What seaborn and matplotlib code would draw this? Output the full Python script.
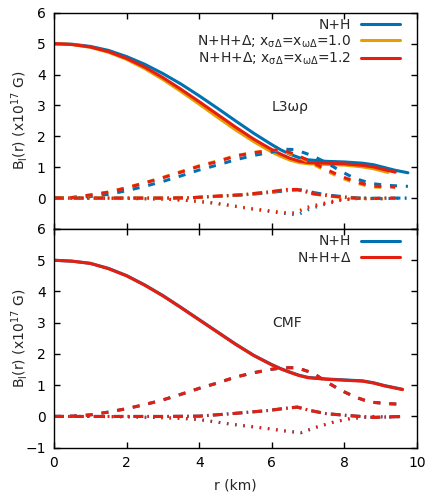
import numpy as np
import pandas as pd
import matplotlib
matplotlib.use("Agg")
import matplotlib.pyplot as plt
from matplotlib.lines import Line2D
import seaborn as sns

sns.set_theme(style="white")
plt.rcParams["font.family"] = ["DejaVu Sans"]
plt.rcParams["mathtext.default"] = "regular"

BLUE = "#0072b2"
ORANGE = "#e69f00"
RED = "#e51e10"

# ---------------- Top panel (L3wr) ----------------
r_solid_b = [0, 0.5, 1, 1.5, 2, 2.5, 3, 3.5, 4, 4.5, 5, 5.5, 6, 6.25, 6.5, 6.75, 7, 7.5, 8, 8.5, 8.8, 9.1, 9.4, 9.75]
solid_nh = [5.00, 4.98, 4.91, 4.78, 4.58, 4.33, 4.03, 3.69, 3.31, 2.91, 2.50, 2.10, 1.73, 1.56, 1.42, 1.31, 1.24, 1.19, 1.17, 1.13, 1.08, 0.99, 0.90, 0.82]
r_solid_r = [0, 0.5, 1, 1.5, 2, 2.5, 3, 3.5, 4, 4.5, 5, 5.5, 6, 6.25, 6.5, 6.75, 7, 7.5, 8, 8.5, 8.8, 9.1, 9.4]
solid_12 = [5.00, 4.97, 4.89, 4.74, 4.52, 4.24, 3.90, 3.52, 3.12, 2.71, 2.30, 1.91, 1.57, 1.42, 1.29, 1.20, 1.15, 1.13, 1.11, 1.06, 1.01, 0.92, 0.84]
r_solid_o = [0, 0.5, 1, 1.5, 2, 2.5, 3, 3.5, 4, 4.5, 5, 5.5, 6, 6.25, 6.5, 6.75, 7, 7.5, 8, 8.5, 8.8, 9.0, 9.2]
solid_10 = [5.00, 4.97, 4.88, 4.72, 4.49, 4.19, 3.84, 3.45, 3.04, 2.62, 2.21, 1.83, 1.49, 1.35, 1.23, 1.15, 1.11, 1.09, 1.07, 1.01, 0.95, 0.89, 0.83]

r_dash_b = [0, 0.5, 1, 1.5, 2, 2.5, 3, 3.5, 4, 4.5, 5, 5.5, 6, 6.4, 6.64, 7.1, 7.5, 7.9, 8.3, 8.76, 9.2, 9.58, 9.75]
dash_nh = [0, 0.01, 0.05, 0.12, 0.24, 0.38, 0.54, 0.72, 0.91, 1.07, 1.24, 1.38, 1.49, 1.58, 1.57, 1.38, 1.15, 0.87, 0.63, 0.47, 0.41, 0.39, 0.38]
r_dash_r = [0, 0.5, 1, 1.5, 2, 2.5, 3, 3.5, 4, 4.5, 5, 5.5, 6, 6.25, 6.64, 7.06, 7.5, 7.9, 8.3, 8.76, 9.2, 9.4]
dash_12 = [0, 0.02, 0.1, 0.19, 0.33, 0.49, 0.66, 0.84, 1.03, 1.18, 1.36, 1.47, 1.54, 1.57, 1.42, 1.19, 0.93, 0.71, 0.53, 0.39, 0.37, 0.35]
r_dash_o = [0, 0.5, 1, 1.5, 2, 2.5, 3, 3.5, 4, 4.5, 5, 5.5, 6, 6.25, 6.64, 7.06, 7.5, 7.9, 8.3, 8.76, 9.2]
dash_10 = [0, 0.02, 0.1, 0.2, 0.34, 0.5, 0.67, 0.86, 1.05, 1.2, 1.37, 1.48, 1.54, 1.55, 1.38, 1.14, 0.88, 0.66, 0.49, 0.36, 0.34]

r_dd_b = [0, 1, 2, 3, 3.75, 4.57, 5.2, 5.7, 6.1, 6.5, 6.8, 7.2, 7.6, 8.2, 8.6, 9.2, 9.75]
dd_nh = [0, 0, 0, 0, 0.01, 0.06, 0.1, 0.15, 0.2, 0.25, 0.27, 0.17, 0.09, 0.02, -0.01, 0.0, 0.0]
r_dd_r = [0, 1, 2, 3, 3.75, 4.57, 5.2, 5.68, 6.0, 6.4, 6.7, 7.15, 7.6, 8.16, 8.6, 9.2, 9.4]
dd_12 = [0, 0, 0, 0, 0.01, 0.07, 0.11, 0.17, 0.21, 0.28, 0.28, 0.14, 0.07, 0.01, -0.02, 0.0, 0.0]
r_dd_o = [0, 1, 2, 3, 3.75, 4.57, 5.2, 5.68, 6.0, 6.4, 6.7, 7.15, 7.6, 8.16, 8.6, 9.2]
dd_10 = [0, 0, 0, 0, 0.01, 0.07, 0.11, 0.17, 0.21, 0.27, 0.27, 0.13, 0.06, 0.0, -0.02, 0.0]

r_dot_b = [0, 1, 2, 2.5, 3, 3.6, 4, 4.4, 4.7, 5.4, 6.1, 6.5, 6.7, 7.0, 7.34, 7.9, 8.5, 9.0, 9.75]
dot_nh = [0, 0, -0.01, -0.02, -0.03, -0.07, -0.11, -0.16, -0.21, -0.34, -0.46, -0.52, -0.55, -0.38, -0.24, -0.07, 0.0, -0.02, 0.0]
r_dot_r = [0, 1, 2, 2.5, 3, 3.6, 4, 4.4, 4.7, 5.4, 6.1, 6.46, 6.64, 6.97, 7.34, 7.9, 8.5, 9.0, 9.4]
dot_12 = [0, 0, -0.01, -0.02, -0.03, -0.07, -0.11, -0.16, -0.21, -0.34, -0.44, -0.49, -0.48, -0.31, -0.2, -0.05, 0.0, -0.02, 0.0]
r_dot_o = [0, 1, 2, 2.5, 3, 3.6, 4, 4.4, 4.7, 5.4, 6.1, 6.46, 6.64, 6.97, 7.34, 7.9, 8.5, 9.0, 9.2]
dot_10 = [0, 0, -0.01, -0.02, -0.03, -0.07, -0.11, -0.16, -0.21, -0.33, -0.43, -0.48, -0.46, -0.29, -0.18, -0.04, 0.0, -0.02, 0.0]

# ---------------- Bottom panel (CMF) ----------------
r_cmf = [0, 0.5, 1, 1.5, 2, 2.5, 3, 3.5, 4, 4.5, 5, 5.5, 6, 6.25, 6.5, 6.75, 7, 7.5, 8, 8.5, 8.8, 9.1, 9.35, 9.6]
cmf_solid_nh = [5.00, 4.97, 4.90, 4.74, 4.51, 4.21, 3.87, 3.49, 3.10, 2.71, 2.32, 1.96, 1.66, 1.53, 1.42, 1.32, 1.25, 1.20, 1.17, 1.14, 1.08, 0.99, 0.93, 0.87]
cmf_solid_d = [5.00, 4.97, 4.90, 4.73, 4.50, 4.20, 3.86, 3.48, 3.09, 2.70, 2.31, 1.95, 1.65, 1.52, 1.41, 1.31, 1.24, 1.19, 1.16, 1.13, 1.07, 0.98, 0.92, 0.86]
r_cmf_dash = [0, 0.5, 1, 1.5, 2, 2.5, 3, 3.5, 4, 4.5, 5, 5.5, 6, 6.3, 6.7, 7.15, 7.5, 7.9, 8.3, 8.7, 9.2, 9.6]
cmf_dash = [0, 0.01, 0.05, 0.14, 0.25, 0.38, 0.53, 0.71, 0.9, 1.07, 1.26, 1.4, 1.51, 1.56, 1.56, 1.38, 1.11, 0.84, 0.62, 0.46, 0.41, 0.39]
r_cmf_dd = [0, 1, 2, 3, 4, 4.9, 5.9, 6.3, 6.7, 7.06, 7.5, 8.1, 8.8, 9.6]
cmf_dd = [0, 0, 0, 0, 0.01, 0.09, 0.19, 0.25, 0.3, 0.19, 0.09, 0.03, -0.03, 0.0]
r_cmf_dot = [0, 1, 2, 3, 3.5, 4, 4.9, 5.9, 6.4, 6.8, 7.24, 7.7, 8.16, 8.8, 9.2, 9.6]
cmf_dot = [0, 0, -0.01, -0.04, -0.06, -0.1, -0.25, -0.39, -0.47, -0.52, -0.34, -0.18, -0.07, 0.0, -0.02, 0.0]

legend_top = ["N+H",
              "N+H+Δ; x$_{σΔ}$=x$_{ωΔ}$=1.0",
              "N+H+Δ; x$_{σΔ}$=x$_{ωΔ}$=1.2"]
legend_bot = ["N+H", "N+H+Δ"]
ylabel = "B$_l$(r) (x10$^{17}$ G)"
xlabel = "r (km)"

LW = 2.2
STY = {
    "solid": "-",
    "dash": (0, (2.3, 2.9)),
    "dashdot": (0, (3.2, 1.4, 0.5, 1.4)),
    "dot": (0, (0.5, 2.2)),
}


def draw(ax, r, v, color, style):
    df = pd.DataFrame({"r": r, "B": v})
    sns.lineplot(data=df, x="r", y="B", ax=ax, color=color, lw=LW,
                 linestyle=STY[style], estimator=None, errorbar=None,
                 sort=False, legend=False, solid_joinstyle="round")


fig = plt.figure(figsize=(4.27, 4.93), dpi=100)
L, R = 54 / 427, 417 / 427
ax1 = fig.add_axes([L, 1 - 229 / 493, R - L, (229 - 12.7) / 493])
ax2 = fig.add_axes([L, 1 - 447.7 / 493, R - L, (447.7 - 229) / 493])

# top panel curves
for rr, vv, c in [(r_solid_b, solid_nh, BLUE), (r_solid_o, solid_10, ORANGE), (r_solid_r, solid_12, RED)]:
    draw(ax1, rr, vv, c, "solid")
for rr, vv, c in [(r_dash_b, dash_nh, BLUE), (r_dash_o, dash_10, ORANGE), (r_dash_r, dash_12, RED)]:
    draw(ax1, rr, vv, c, "dash")
for rr, vv, c in [(r_dd_b, dd_nh, BLUE), (r_dd_o, dd_10, ORANGE), (r_dd_r, dd_12, RED)]:
    draw(ax1, rr, vv, c, "dashdot")
for rr, vv, c in [(r_dot_b, dot_nh, BLUE), (r_dot_o, dot_10, ORANGE), (r_dot_r, dot_12, RED)]:
    draw(ax1, rr, vv, c, "dot")

# bottom panel curves
draw(ax2, r_cmf, cmf_solid_nh, BLUE, "solid")
draw(ax2, r_cmf_dash, cmf_dash, BLUE, "dash")
draw(ax2, r_cmf_dd, cmf_dd, BLUE, "dashdot")
draw(ax2, r_cmf_dot, cmf_dot, BLUE, "dot")
draw(ax2, r_cmf, cmf_solid_d, RED, "solid")
draw(ax2, r_cmf_dash, cmf_dash, RED, "dash")
draw(ax2, r_cmf_dd, cmf_dd, RED, "dashdot")
draw(ax2, r_cmf_dot, cmf_dot, RED, "dot")

for ax in (ax1, ax2):
    ax.set_xlim(0, 10)
    ax.set_ylim(-1, 6)
    ax.set_xticks([0, 2, 4, 6, 8, 10])
    ax.set_yticks([-1, 0, 1, 2, 3, 4, 5, 6])
    ax.tick_params(direction="in", length=4, width=1, colors="black",
                   top=True, right=True, bottom=True, left=True,
                   labelsize=10, pad=6)
    for s in ax.spines.values():
        s.set_color("black")
        s.set_linewidth(1.0)
    ax.set_ylabel(ylabel, fontsize=10)
    ax.yaxis.set_label_coords(-0.066, 0.5)
    ax.grid(False)

ax1.set_yticklabels(["", "0", "1", "2", "3", "4", "5", "6"])
ax1.set_xticklabels([])
ax1.set_xlabel("")
ax2.set_xticklabels(["0", "2", "4", "6", "8", "10"])
ax2.set_xlabel(xlabel, fontsize=10, labelpad=6)

ax1.text(6.0, 2.96, "L3ωρ", fontsize=10, va="center", ha="left")
ax2.text(6.0, 3.0, "CMF", fontsize=10, va="center", ha="left")

h_top = [Line2D([], [], color=c, lw=LW) for c in (BLUE, ORANGE, RED)]
ax1.legend(h_top, legend_top, loc="upper right", bbox_to_anchor=(0.952, 0.975),
           frameon=False, markerfirst=False, handlelength=2.8, handletextpad=0.7,
           borderpad=0, borderaxespad=0, labelspacing=0.08, fontsize=10)
h_bot = [Line2D([], [], color=c, lw=LW) for c in (BLUE, RED)]
ax2.legend(h_bot, legend_bot, loc="upper right", bbox_to_anchor=(0.952, 0.975),
           frameon=False, markerfirst=False, handlelength=2.8, handletextpad=0.7,
           borderpad=0, borderaxespad=0, labelspacing=0.15, fontsize=10)

fig.savefig("out.png", dpi=100)
